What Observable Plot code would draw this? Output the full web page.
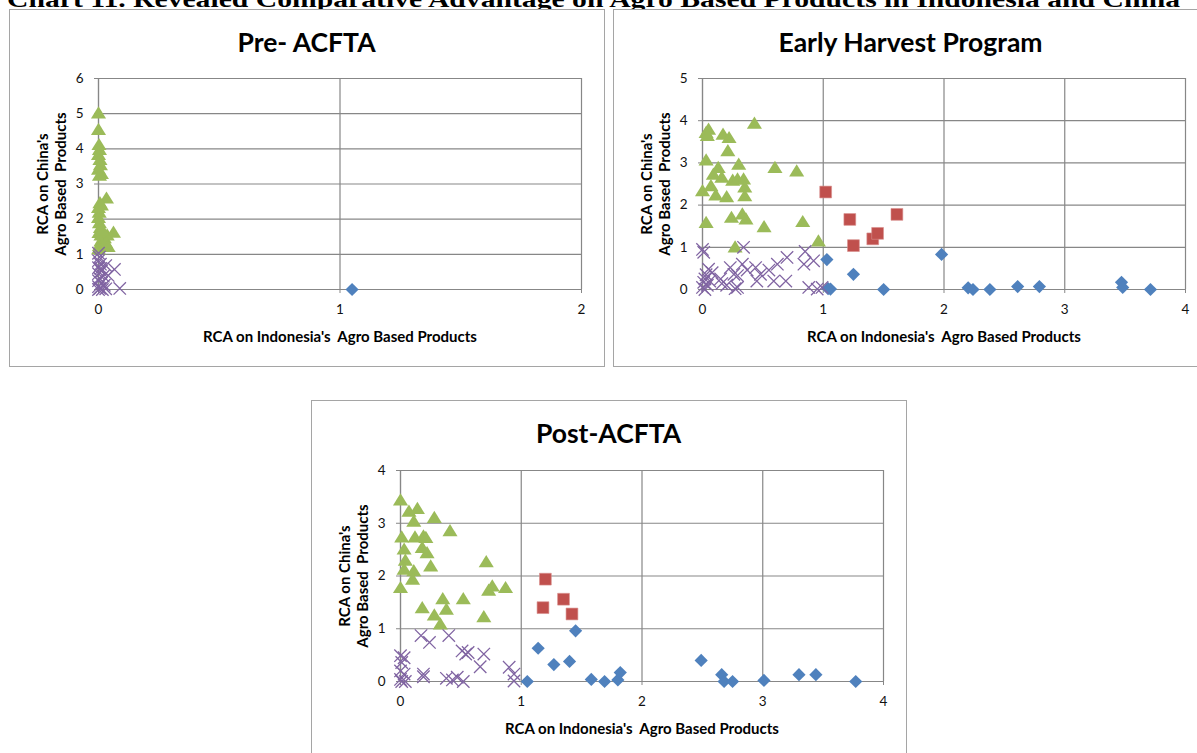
<!DOCTYPE html>
<html>
<head>
<meta charset="utf-8">
<script src="https://cdn.jsdelivr.net/npm/d3@7"></script>
<script src="https://cdn.jsdelivr.net/npm/@observablehq/plot@0.6"></script>
<style>
  html, body { margin: 0; padding: 0; background: #fff; overflow: hidden; }
  #page { position: relative; width: 1197px; height: 753px; overflow: hidden; background: #fff; }
  .panel { position: absolute; box-sizing: border-box; border: 1px solid #a5a5a5; background: #fff; }
  .panel svg { display: block; }
  #header { position: absolute; left: 0; top: 0; }
</style>
</head>
<body>
<div id="page"></div>
<script>
// ---------- text ----------
const headerText = "Chart 11. Revealed Comparative Advantage on Agro Based Products in Indonesia and China";
const panelTitles = ["Pre- ACFTA", "Early Harvest Program", "Post-ACFTA"];
const xAxisTitle = "RCA on Indonesia's  Agro Based Products";
const yAxisTitle = "RCA on China's\nAgro Based  Products";

// ---------- ticks ----------
const preXTicks = [0, 1, 2];
const preYTicks = [0, 1, 2, 3, 4, 5, 6];
const ehpXTicks = [0, 1, 2, 3, 4];
const ehpYTicks = [0, 1, 2, 3, 4, 5];
const postXTicks = [0, 1, 2, 3, 4];
const postYTicks = [0, 1, 2, 3, 4];

// ---------- Pre-ACFTA data [RCA Indonesia, RCA China] ----------
const preTriangles = [
  [0.000, 5.02], [0.000, 4.55], [0.002, 4.12], [0.004, 3.98], [0.000, 3.84], [0.006, 3.70],
  [0.008, 3.55], [0.000, 3.42], [0.012, 3.30], [0.004, 3.25], [0.033, 2.60], [0.006, 2.47],
  [0.000, 2.33], [0.003, 2.20], [0.000, 2.05], [0.004, 1.90], [0.008, 1.76], [0.002, 1.62],
  [0.010, 1.55], [0.024, 1.47], [0.036, 1.55], [0.062, 1.63], [0.010, 1.38], [0.004, 1.25],
  [0.030, 1.33], [0.000, 1.15], [0.040, 1.22], [0.015, 1.70], [0.012, 2.40]
];
const preCrosses = [
  [0.000, 1.03], [0.004, 0.92], [0.000, 0.82], [0.008, 0.72], [0.030, 0.68], [0.000, 0.62],
  [0.066, 0.57], [0.012, 0.52], [0.000, 0.45], [0.020, 0.38], [0.004, 0.32], [0.000, 0.25],
  [0.012, 0.18], [0.024, 0.12], [0.000, 0.08], [0.006, 0.03], [0.030, 0.02], [0.088, 0.03],
  [0.016, 0.00], [0.000, 0.00], [0.040, 0.40], [0.010, 0.60]
];
const preSquares = [];
const preDiamonds = [[1.05, 0.00]];

// ---------- Early Harvest Program data ----------
const ehpTriangles = [
  [0.03, 3.72], [0.05, 3.80], [0.04, 3.65], [0.17, 3.68], [0.22, 3.60], [0.21, 3.29],
  [0.43, 3.94], [0.03, 3.07], [0.13, 2.89], [0.09, 2.73], [0.16, 2.66], [0.30, 2.97],
  [0.25, 2.59], [0.29, 2.62], [0.34, 2.62], [0.35, 2.43], [0.00, 2.34], [0.07, 2.46],
  [0.11, 2.24], [0.20, 2.20], [0.35, 2.22], [0.60, 2.89], [0.78, 2.81], [0.03, 1.59],
  [0.24, 1.71], [0.33, 1.79], [0.36, 1.67], [0.51, 1.49], [0.83, 1.61], [0.96, 1.15],
  [0.27, 1.01]
];
const ehpCrosses = [
  [0.01, 0.88], [0.00, 0.95], [0.05, 0.48], [0.02, 0.25], [0.01, 0.17], [0.06, 0.20],
  [0.00, 0.05], [0.03, 0.35], [0.04, 0.10], [0.02, 0.00], [0.08, 0.40], [0.15, 0.25],
  [0.16, 0.14], [0.26, 0.36], [0.29, 0.05], [0.27, 0.02], [0.34, 1.00], [0.33, 0.60],
  [0.37, 0.46], [0.44, 0.52], [0.48, 0.36], [0.55, 0.46], [0.59, 0.20], [0.62, 0.60],
  [0.70, 0.76], [0.69, 0.20], [0.85, 0.90], [0.84, 0.60], [0.92, 0.68], [0.88, 0.05],
  [0.95, 0.01], [0.99, 0.05], [0.23, 0.52], [0.29, 0.33], [0.20, 0.10], [0.45, 0.20]
];
const ehpSquares = [
  [1.02, 2.31], [1.22, 1.66], [1.25, 1.04], [1.41, 1.20], [1.45, 1.33], [1.61, 1.78]
];
const ehpDiamonds = [
  [1.03, 0.71], [1.25, 0.36], [1.04, 0.02], [1.06, 0.01], [1.50, 0.00], [1.98, 0.83],
  [2.20, 0.04], [2.24, 0.00], [2.38, 0.00], [2.61, 0.07], [2.79, 0.07], [3.47, 0.17],
  [3.48, 0.05], [3.71, 0.00]
];

// ---------- Post-ACFTA data ----------
const postTriangles = [
  [0.00, 3.44], [0.07, 3.23], [0.14, 3.28], [0.11, 3.04], [0.28, 3.11], [0.41, 2.86],
  [0.01, 2.74], [0.12, 2.74], [0.19, 2.76], [0.21, 2.73], [0.03, 2.51], [0.18, 2.54],
  [0.22, 2.44], [0.04, 2.30], [0.03, 2.13], [0.11, 2.10], [0.10, 1.94], [0.25, 2.19],
  [0.71, 2.27], [0.76, 1.81], [0.73, 1.73], [0.87, 1.78], [0.00, 1.78], [0.18, 1.40],
  [0.35, 1.57], [0.38, 1.37], [0.28, 1.26], [0.33, 1.09], [0.52, 1.57], [0.69, 1.23]
];
const postCrosses = [
  [0.00, 0.49], [0.03, 0.45], [0.01, 0.36], [0.00, 0.20], [0.03, 0.14], [0.00, 0.04],
  [0.01, 0.00], [0.04, 0.00], [0.17, 0.87], [0.24, 0.74], [0.40, 0.87], [0.19, 0.14],
  [0.19, 0.09], [0.38, 0.06], [0.43, 0.03], [0.47, 0.08], [0.52, 0.00], [0.51, 0.58],
  [0.54, 0.52], [0.56, 0.55], [0.66, 0.28], [0.69, 0.52], [0.90, 0.27], [0.94, 0.14],
  [0.94, 0.01]
];
const postSquares = [
  [1.20, 1.94], [1.18, 1.40], [1.35, 1.56], [1.42, 1.28]
];
const postDiamonds = [
  [1.05, 0.00], [1.14, 0.63], [1.27, 0.32], [1.40, 0.38], [1.45, 0.96], [1.58, 0.04],
  [1.69, 0.00], [1.80, 0.03], [1.82, 0.17], [2.49, 0.40], [2.66, 0.13], [2.68, 0.00],
  [2.75, 0.00], [3.01, 0.02], [3.30, 0.13], [3.44, 0.13], [3.77, 0.00]
];

// ---------- colours ----------
const cTri = "#9BBB59", cSq = "#C0504D", cDia = "#4F81BD", cX = "#8064A2";
const gridColor = "#878787";

// ---------- custom Excel-like marker shapes ----------
const symTri = { draw(ctx, size) { const r = Math.sqrt(size / Math.PI);
  ctx.moveTo(0, -r * 1.15); ctx.lineTo(r * 1.3, r * 0.95); ctx.lineTo(-r * 1.3, r * 0.95); ctx.closePath(); } };
const symSq = { draw(ctx, size) { const r = Math.sqrt(size / Math.PI); ctx.rect(-r, -r, 2 * r, 2 * r); } };
const symDia = { draw(ctx, size) { const r = Math.sqrt(size / Math.PI);
  ctx.moveTo(0, -r); ctx.lineTo(r, 0); ctx.lineTo(0, r); ctx.lineTo(-r, 0); ctx.closePath(); } };
const symX = { draw(ctx, size) { const r = Math.sqrt(size / Math.PI);
  ctx.moveTo(-r, -r); ctx.lineTo(r, r); ctx.moveTo(-r, r); ctx.lineTo(r, -r); } };

const page = document.getElementById("page");

// header (cut off at top, as in the reference)
const hdr = d3.select(page).append("svg").attr("id", "header").attr("width", 1197).attr("height", 14);
hdr.append("text").attr("x", 7).attr("y", 6.5)
  .attr("font-family", "'Liberation Serif', 'Times New Roman', serif").attr("font-weight", "bold")
  .attr("font-size", 24).attr("textLength", 1173).attr("lengthAdjust", "spacingAndGlyphs")
  .text(headerText);

function panel({left, top, title, xTicks, yTicks, tri, sq, dia, cross, mt}) {
  const W = 594, H = 356, ML = 88, PW = 483, PH = 211;
  const div = document.createElement("div");
  div.className = "panel";
  Object.assign(div.style, {left: left + "px", top: top + "px", width: "596px", height: "358px"});
  const xDom = [xTicks[0], xTicks[xTicks.length - 1]];
  const yDom = [yTicks[0], yTicks[yTicks.length - 1]];
  const chart = Plot.plot({
    width: W, height: H,
    marginLeft: ML, marginRight: W - ML - PW, marginTop: mt, marginBottom: H - mt - PH,
    style: {fontFamily: "Lato, 'Open Sans', sans-serif", fontSize: "13.5px", color: "#111", background: "#fff", overflow: "visible"},
    x: {domain: xDom, label: null},
    y: {domain: yDom, label: null},
    marks: [
      Plot.gridX(xTicks, {stroke: gridColor, strokeOpacity: 1, strokeWidth: 1.2}),
      Plot.gridY(yTicks, {stroke: gridColor, strokeOpacity: 1, strokeWidth: 1.2}),
      Plot.axisX(xTicks, {tickSize: 4, tickPadding: 11, stroke: gridColor, fill: "#111", label: null, tickFormat: d => String(d)}),
      Plot.axisY(yTicks, {tickSize: 4, tickPadding: 11, stroke: gridColor, fill: "#111", label: null, tickFormat: d => String(d)}),
      Plot.ruleX([xDom[0]], {stroke: gridColor, strokeWidth: 1.2}),
      Plot.ruleY([yDom[0]], {stroke: gridColor, strokeWidth: 1.2}),
      Plot.dot(dia, {x: d => d[0], y: d => d[1], symbol: symDia, r: 6.6, fill: cDia, stroke: "none"}),
      Plot.dot(sq, {x: d => d[0], y: d => d[1], symbol: symSq, r: 5.9, fill: cSq, stroke: "#d98f8d", strokeWidth: 0.6}),
      Plot.dot(tri, {x: d => d[0], y: d => d[1], symbol: symTri, r: 5.8, fill: cTri, stroke: "none"}),
      Plot.dot(cross, {x: d => d[0], y: d => d[1], symbol: symX, r: 6.2, fill: "none", stroke: cX, strokeWidth: 1.3}),
      Plot.text([title], {frameAnchor: "top", dx: -33.5, dy: 33 - mt, fontSize: 26.5, fontWeight: "bold", fill: "#000", lineAnchor: "middle", textAnchor: "middle"}),
      Plot.text([xAxisTitle], {frameAnchor: "bottom", dy: 48, fontSize: 15, fontWeight: "bold", fill: "#000", lineAnchor: "middle", textAnchor: "middle"}),
      Plot.text([yAxisTitle], {frameAnchor: "left", dx: -47, rotate: -90, fontSize: 15, fontWeight: "bold", fill: "#000", lineAnchor: "middle", textAnchor: "middle", lineHeight: 1.2})
    ]
  });
  div.appendChild(chart);
  page.appendChild(div);
}

panel({left: 9, top: 9, title: panelTitles[0], xTicks: preXTicks, yTicks: preYTicks,
  tri: preTriangles, sq: preSquares, dia: preDiamonds, cross: preCrosses, mt: 68});
panel({left: 613, top: 9, title: panelTitles[1], xTicks: ehpXTicks, yTicks: ehpYTicks,
  tri: ehpTriangles, sq: ehpSquares, dia: ehpDiamonds, cross: ehpCrosses, mt: 68});
panel({left: 311, top: 400, title: panelTitles[2], xTicks: postXTicks, yTicks: postYTicks,
  tri: postTriangles, sq: postSquares, dia: postDiamonds, cross: postCrosses, mt: 69});
</script>
</body>
</html>
